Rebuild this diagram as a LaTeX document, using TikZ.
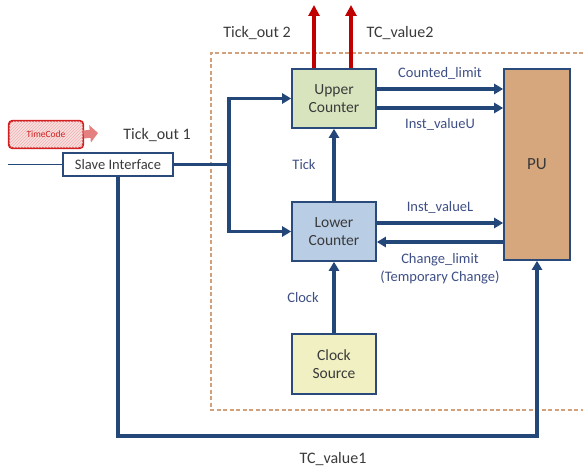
\documentclass[tikz,border=0pt]{standalone}
\usepackage{fontspec}
\setmainfont{Carlito}
\usetikzlibrary{arrows.meta,patterns}
\definecolor{lineblue}{HTML}{24477A}
\definecolor{boxblue}{HTML}{2A4A7C}
\definecolor{lblblue}{HTML}{3E4F85}
\definecolor{txtgray}{HTML}{3A3A3A}
\definecolor{upfill}{HTML}{D7E4BD}
\definecolor{lowfill}{HTML}{B9CDE5}
\definecolor{clkfill}{HTML}{F0F0C2}
\definecolor{pufill}{HTML}{D6A67C}
\definecolor{dashtan}{HTML}{D2A07A}
\definecolor{redarrow}{HTML}{C00000}
\definecolor{tcred}{HTML}{D22020}
\definecolor{tcpink}{HTML}{E48080}
\tikzset{
  blk/.style={draw=boxblue,line width=1.6pt,minimum width=84pt,minimum height=59pt,align=center,text=txtgray,font=\fontsize{15.5}{18.5}\selectfont,inner sep=0pt},
  bus/.style={draw=lineblue,line width=3.5pt,-{Triangle[length=9pt,width=10pt]}},
  busnoarrow/.style={draw=lineblue,line width=3.5pt},
  redbus/.style={draw=redarrow,line width=3.5pt,-{Triangle[length=11pt,width=11pt]}},
  lbl/.style={text=lblblue,font=\fontsize{14.5}{17}\selectfont,inner sep=0pt},
  olbl/.style={text=txtgray,font=\fontsize{16}{19}\selectfont,inner sep=0pt}
}
\begin{document}
\begin{tikzpicture}[x=1pt,y=-1pt]
\useasboundingbox (0,0) rectangle (583,468);
% dashed enclosure
\draw[dashtan,line width=1.1pt,dash pattern=on 4pt off 2.5pt] (583,53) -- (211,53) -- (211,410) -- (583,410);
% blocks
\node[blk,fill=upfill] (upper) at (334,98.5) {Upper\\Counter};
\node[blk,fill=lowfill] (lower) at (334,231.5) {Lower\\Counter};
\node[blk,fill=clkfill,minimum height=60pt] (clk) at (334,364) {Clock\\Source};
\node[draw=boxblue,line width=1.6pt,fill=pufill,minimum width=66pt,minimum height=191pt,inner sep=0pt,text=txtgray,font=\fontsize{17}{20}\selectfont] (pu) at (537,164.5) {PU};
\node[draw=boxblue,line width=1.6pt,fill=white,minimum width=110pt,minimum height=23pt,inner sep=0pt,text=txtgray,font=\fontsize{14.5}{17}\selectfont] (slave) at (118,164.5) {Slave Interface};
\node[draw=tcred,line width=1.2pt,rounded corners=4pt,fill=tcpink!25,minimum width=74pt,minimum height=27pt,inner sep=0pt] (tc) at (46,134.5) {};
\fill[pattern=north east lines,pattern color=tcpink!60,rounded corners=4pt] (tc.south west) rectangle (tc.north east);
\draw[tcred,line width=1.2pt,rounded corners=4pt] (tc.south west) rectangle (tc.north east);
\node[text=tcred,font=\fontsize{9.5}{11}\selectfont,inner sep=0pt] (tctext) at (tc.center) {TimeCode};
% TimeCode arrow
\coordinate (tcend) at (98,133);
\draw[tcpink,line width=8pt,-{Triangle[length=8pt,width=17pt]}] (tc.east) -- (tcend);
% coordinates
\coordinate (r1) at (314,5);
\coordinate (r2) at (351,5);
\coordinate (sp) at (229,164.5);
\coordinate (in) at (8,164.5);
\coordinate (bl) at (118,436);
\coordinate (ya) at (0,89);
\coordinate (yb) at (0,108);
\coordinate (yc) at (0,223);
\coordinate (yd) at (0,242);
% red outputs
\draw[redbus] (upper.north -| r1) -- (r1);
\draw[redbus] (upper.north -| r2) -- (r2);
% vertical connections
\draw[bus] (lower.north) -- (upper.south);
\draw[bus] (clk.north) -- (lower.south);
% to/from PU
\draw[bus] (upper.east |- ya) -- (pu.west |- ya);
\draw[bus] (upper.east |- yb) -- (pu.west |- yb);
\draw[bus] (lower.east |- yc) -- (pu.west |- yc);
\draw[bus] (pu.west |- yd) -- (lower.east |- yd);
% slave interface
\draw[lineblue,line width=1.2pt] (in) -- (slave.west);
\draw[busnoarrow] (slave.east) -- (sp);
\draw[bus] (sp) |- (upper.west);
\draw[bus] (sp) |- (lower.west);
\draw[bus] (slave.south) -- (bl) -| (pu.south);
% labels
\node[olbl] (l1) at (257,33) {Tick\_out 2};
\node[olbl] (l2) at (400,33) {TC\_value2};
\node[olbl] (l3) at (157,135) {Tick\_out 1};
\node[olbl] (l4) at (333,459) {TC\_value1};
\node[lbl] (l5) at (440,73) {Counted\_limit};
\node[lbl] (l6) at (440,124) {Inst\_valueU};
\node[lbl] (l7) at (440,207) {Inst\_valueL};
\node[lbl] (l8) at (440,260) {Change\_limit};
\node[lbl] (l9) at (440,277) {(Temporary Change)};
\node[lbl] (l10) at (304,165) {Tick};
\node[lbl] (l11) at (303,298) {Clock};
\end{tikzpicture}
\end{document}
